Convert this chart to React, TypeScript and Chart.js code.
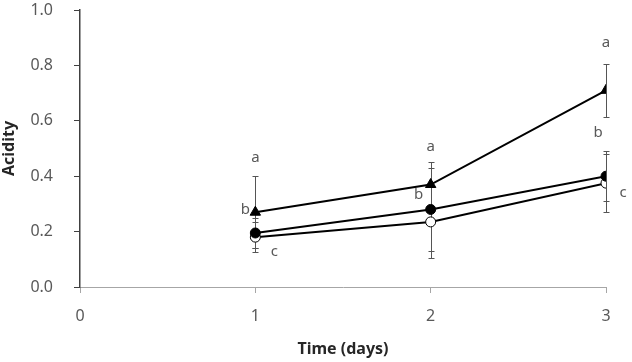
import React, { useEffect, useRef } from "react";
import { Chart, registerables } from "chart.js";

Chart.register(...registerables);

const days = [1, 2, 3];
const xTicks = [0, 1, 2, 3];
const yTicks = [0, 0.2, 0.4, 0.6, 0.8, 1.0];

const triangleValues = [0.27, 0.37, 0.71];
const triangleErrors = [0.13, 0.08, 0.095];

const filledValues = [0.195, 0.28, 0.4];
const filledErrors = [0.055, 0.15, 0.09];

const openValues = [0.18, 0.235, 0.375];
const openErrors = [0.055, 0.13, 0.105];

const letterTexts = ["a", "b", "c", "a", "b", "a", "b", "c"];
const letterDays = [1, 1, 1, 2, 2, 3, 3, 3];
const letterValues = [0.466, 0.278, 0.126, 0.505, 0.332, 0.881, 0.556, 0.339];
const letterDx = [0, -10, 19, 0, -12, 0, -8, 17];

const xTitle = "Time (days)";
const yTitle = "Acidity";

const FONT = "'Noto Sans', 'Open Sans', sans-serif";

const errorBarPlugin = {
  id: "errorBars",
  beforeDatasetsDraw(chart: any) {
    const { ctx, scales } = chart;
    const xs = scales.x;
    const ys = scales.y;
    const sets = [
      [triangleValues, triangleErrors],
      [filledValues, filledErrors],
      [openValues, openErrors],
    ];
    ctx.save();
    ctx.strokeStyle = "#555555";
    ctx.lineWidth = 1;
    sets.forEach(([vals, errs]) => {
      vals.forEach((v: number, i: number) => {
        const px = Math.round(xs.getPixelForValue(days[i])) + 0.5;
        const top = Math.round(ys.getPixelForValue(v + errs[i])) + 0.5;
        const bot = Math.round(ys.getPixelForValue(v - errs[i])) + 0.5;
        ctx.beginPath();
        ctx.moveTo(px, top);
        ctx.lineTo(px, bot);
        ctx.moveTo(px - 3, top);
        ctx.lineTo(px + 3, top);
        ctx.moveTo(px - 3, bot);
        ctx.lineTo(px + 3, bot);
        ctx.stroke();
      });
    });
    ctx.restore();
  },
};

const letterPlugin = {
  id: "letters",
  afterDraw(chart: any) {
    const { ctx, scales } = chart;
    ctx.save();
    ctx.fillStyle = "#595959";
    ctx.font = `15px ${FONT}`;
    ctx.textAlign = "center";
    ctx.textBaseline = "middle";
    letterTexts.forEach((t, i) => {
      const px = scales.x.getPixelForValue(letterDays[i]) + letterDx[i];
      const py = scales.y.getPixelForValue(letterValues[i]);
      ctx.fillText(t, px, py);
    });
    ctx.restore();
  },
};

export default function App() {
  const ref = useRef<HTMLCanvasElement | null>(null);

  useEffect(() => {
    if (!ref.current) return;
    const toPts = (vals: number[]) => vals.map((v, i) => ({ x: days[i], y: v }));
    const chart = new Chart(ref.current, {
      type: "line",
      data: {
        datasets: [
          {
            data: toPts(triangleValues),
            borderColor: "#000000",
            borderWidth: 2,
            pointStyle: "triangle",
            pointRadius: 6,
            pointBackgroundColor: "#000000",
            pointBorderColor: "#000000",
            pointBorderWidth: 1,
          },
          {
            data: toPts(filledValues),
            borderColor: "#000000",
            borderWidth: 2,
            pointStyle: "circle",
            pointRadius: 5,
            pointBackgroundColor: "#000000",
            pointBorderColor: "#000000",
            pointBorderWidth: 1,
          },
          {
            data: toPts(openValues),
            borderColor: "#000000",
            borderWidth: 2,
            pointStyle: "circle",
            pointRadius: 5,
            pointBackgroundColor: "#ffffff",
            pointBorderColor: "#000000",
            pointBorderWidth: 1,
          },
        ],
      },
      options: {
        responsive: false,
        animation: false,
        devicePixelRatio: 1,
        layout: { padding: { top: 10, right: 26, left: 0, bottom: 0 } },
        plugins: {
          legend: { display: false },
          tooltip: { enabled: false },
        },
        scales: {
          x: {
            type: "linear",
            min: 0,
            max: 3,
            afterFit: (s: any) => {
              s.height = 75;
              s.paddingLeft = 0;
              s.paddingRight = 0;
            },
            afterBuildTicks: (s: any) => {
              s.ticks = xTicks.map((v) => ({ value: v }));
            },
            border: { display: true, color: "#a6a6a6", width: 1 },
            grid: {
              display: true,
              drawOnChartArea: false,
              drawTicks: true,
              tickLength: 6,
              color: "#a6a6a6",
            },
            ticks: {
              padding: 14,
              color: "#595959",
              font: { family: FONT, size: 16 },
              maxRotation: 0,
            },
            title: {
              display: true,
              text: xTitle,
              color: "#262626",
              font: { family: FONT, size: 16, weight: "bold" },
              padding: { top: 0, bottom: 3 },
            },
          },
          y: {
            type: "linear",
            min: 0,
            max: 1,
            afterFit: (s: any) => {
              s.width = 80;
              s.paddingTop = 0;
              s.paddingBottom = 0;
            },
            afterBuildTicks: (s: any) => {
              s.ticks = yTicks.map((v) => ({ value: v }));
            },
            border: { display: true, color: "#404040", width: 1.5 },
            grid: {
              display: true,
              drawOnChartArea: false,
              drawTicks: true,
              tickLength: 6,
              color: "#404040",
            },
            ticks: {
              padding: 21,
              color: "#595959",
              font: { family: FONT, size: 16 },
              callback: (v: any) => Number(v).toFixed(1),
            },
            title: {
              display: true,
              text: yTitle,
              color: "#262626",
              font: { family: FONT, size: 16, weight: "bold" },
              padding: { top: 0, bottom: 0 },
            },
          },
        },
      },
      plugins: [errorBarPlugin, letterPlugin],
    } as any);
    return () => chart.destroy();
  }, []);

  return (
    <div style={{ position: "absolute", left: 0, top: 0, width: 632, height: 362, background: "#ffffff" }}>
      <canvas ref={ref} width={632} height={362} />
    </div>
  );
}
